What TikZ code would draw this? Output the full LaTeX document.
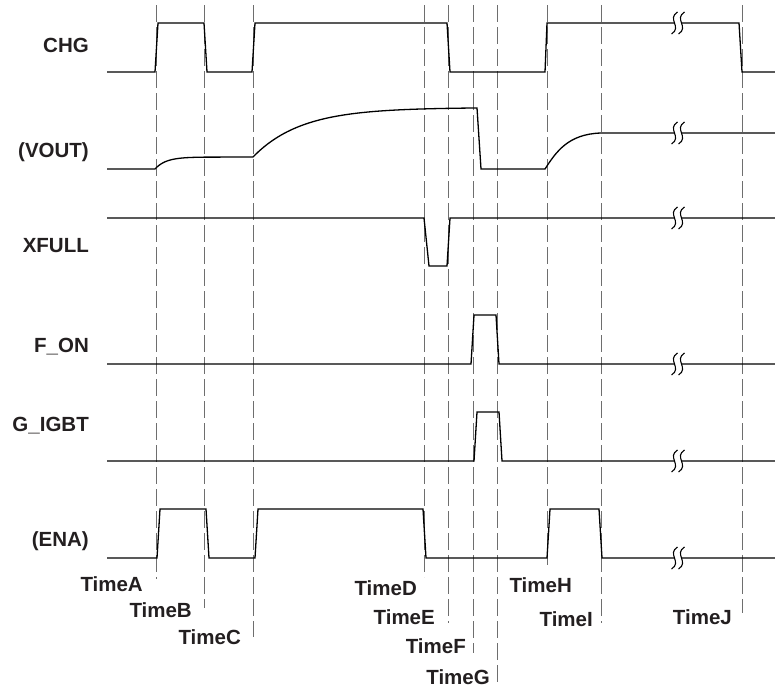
\documentclass[tikz,border=0pt]{standalone}
\usepackage{fontspec}
\setmainfont{Liberation Sans}
\definecolor{txt}{HTML}{231F20}
\definecolor{dashgray}{HTML}{6E6E6E}
\newcommand\brkmark[2]{%
  \fill[white] ({#1-3.5},{#2-3}) rectangle ({#1+3.5},{#2+3});
  \draw[brk] ({#1-3.5+3},{#2-11}) .. controls ({#1-3.5-8},{#2-4}) and ({#1-3.5+8},{#2+4}) .. ({#1-3.5-3},{#2+11});
  \draw[brk] ({#1+3.5+3},{#2-11}) .. controls ({#1+3.5-8},{#2-4}) and ({#1+3.5+8},{#2+4}) .. ({#1+3.5-3},{#2+11});
}
\begin{document}
\begin{tikzpicture}[x=1pt,y=-1pt,
  wave/.style={line width=1.3pt, black, line join=miter},
  tline/.style={dashgray, line width=1pt, dash pattern=on 17pt off 5pt},
  brk/.style={line width=1.1pt, black},
  sig/.style={font=\fontsize{20.5}{24}\selectfont\bfseries, text=txt, anchor=base east, inner sep=0pt}]
\useasboundingbox (0,0) rectangle (775,689);

% time lines
\foreach \n/\x/\b in {A/156/579, B/204/608, C/253/637, D/424/577, E/448/623, F/473/653, G/497/683, H/547/565, I/601/623, J/742/613}{
  \coordinate (t\n) at (\x,5);
  \coordinate (b\n) at (\x,\b);
  \draw[tline] (t\n) -- (b\n);
}

% signal labels
\node[sig] (lchg) at (89,52) {CHG};
\node[sig] (lvout) at (89,157) {(VOUT)};
\node[sig] (lxfull) at (89,252) {XFULL};
\node[sig] (lfon) at (89,352) {F\_ON};
\node[sig] (ligbt) at (89,431) {G\_IGBT};
\node[sig] (lena) at (89,546) {(ENA)};

% time labels
\node[sig] (nA) at (143,591) {TimeA};
\node[sig] (nB) at (192,617) {TimeB};
\node[sig] (nC) at (241,644) {TimeC};
\node[sig] (nD) at (417,595) {TimeD};
\node[sig] (nE) at (435,624) {TimeE};
\node[sig] (nF) at (466,653) {TimeF};
\node[sig] (nG) at (490,684) {TimeG};
\node[sig] (nH) at (572,592) {TimeH};
\node[sig] (nI) at (593,626) {TimeI};
\node[sig] (nJ) at (732,624) {TimeJ};

% CHG
\draw[wave] (107,72) -- (155,72) -- (158,23) -- (204,23) -- (207,72) -- (252,72) -- (255,23) -- (447,23) -- (450,72) -- (545,72) -- (547,23) -- (739,23) -- (742,72) -- (775,72);
% VOUT
\draw[wave] (107,169) -- (155,169)
  -- plot[domain=0:49, samples=40] ({155+\x},{157+12*exp(-\x/11)})
  -- (253,157)
  -- plot[domain=0:224, samples=80] ({253+\x},{107.5+49.5*exp(-\x/48)})
  -- (477,108) -- (481,169) -- (545,169)
  .. controls (556,152) and (568,134) .. (601,133) -- (775,133);
% XFULL
\draw[wave] (107,218) -- (424,218) -- (429,266) -- (447,266) -- (450,218) -- (775,218);
% F_ON
\draw[wave] (107,364) -- (471,364) -- (474,315) -- (496,315) -- (499,364) -- (775,364);
% G_IGBT
\draw[wave] (107,461) -- (474,461) -- (477,412) -- (499,412) -- (502,461) -- (775,461);
% ENA
\draw[wave] (107,558) -- (157,558) -- (160,509) -- (206,509) -- (209,558) -- (255,558) -- (258,509) -- (423,509) -- (426,558) -- (547,558) -- (550,509) -- (599,509) -- (602,558) -- (775,558);

% break marks
\foreach \y in {23,133,218,364,461,558}{ \brkmark{678}{\y} }
\end{tikzpicture}
\end{document}
